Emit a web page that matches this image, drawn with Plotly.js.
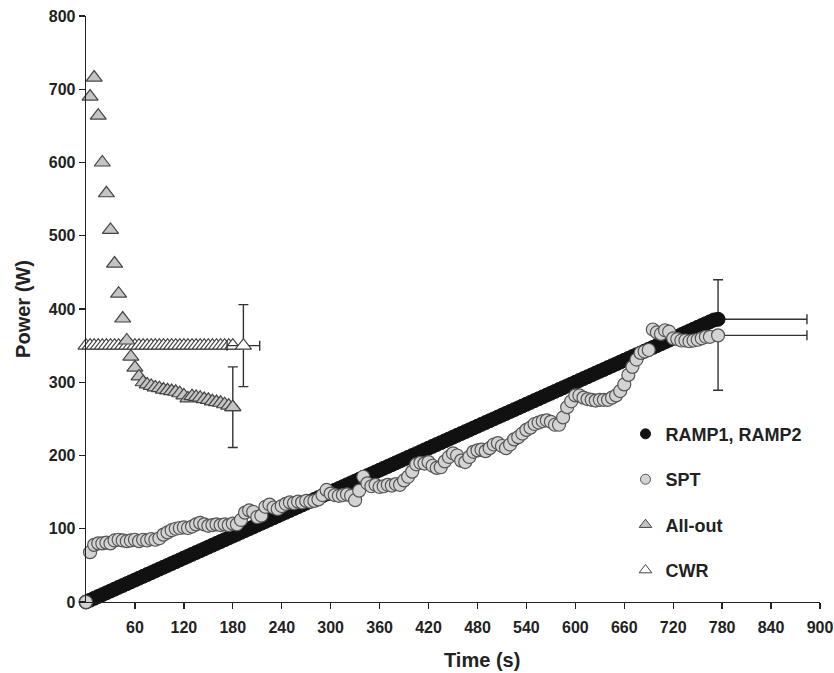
<!DOCTYPE html>
<html>
<head>
<meta charset="utf-8">
<script src="https://cdn.plot.ly/plotly-3.0.1.min.js"></script>
<style>html,body{margin:0;padding:0;background:#fff;}#chart{width:834px;height:673px;}</style>
</head>
<body>
<div id="chart"></div>
<script>
// ---- Data ----
var rampTime = [0,5,10,15,20,25,30,35,40,45,50,55,60,65,70,75,80,85,90,95,100,105,110,115,120,125,130,135,140,145,150,155,160,165,170,175,180,185,190,195,200,205,210,215,220,225,230,235,240,245,250,255,260,265,270,275,280,285,290,295,300,305,310,315,320,325,330,335,340,345,350,355,360,365,370,375,380,385,390,395,400,405,410,415,420,425,430,435,440,445,450,455,460,465,470,475,480,485,490,495,500,505,510,515,520,525,530,535,540,545,550,555,560,565,570,575,580,585,590,595,600,605,610,615,620,625,630,635,640,645,650,655,660,665,670,675,680,685,690,695,700,705,710,715,720,725,730,735,740,745,750,755,760,765,770];
var rampPower = [0,2.5,5,7.5,10,12.5,15,17.5,20,22.5,25,27.5,30,32.5,35,37.5,40,42.5,45,47.5,50,52.5,55,57.5,60,62.5,65,67.5,70,72.5,75,77.5,80,82.5,85,87.5,90,92.5,95,97.5,100,102.5,105,107.5,110,112.5,115,117.5,120,122.5,125,127.5,130,132.5,135,137.5,140,142.5,145,147.5,150,152.5,155,157.5,160,162.5,165,167.5,170,172.5,175,177.5,180,182.5,185,187.5,190,192.5,195,197.5,200,202.5,205,207.5,210,212.5,215,217.5,220,222.5,225,227.5,230,232.5,235,237.5,240,242.5,245,247.5,250,252.5,255,257.5,260,262.5,265,267.5,270,272.5,275,277.5,280,282.5,285,287.5,290,292.5,295,297.5,300,302.5,305,307.5,310,312.5,315,317.5,320,322.5,325,327.5,330,332.5,335,337.5,340,342.5,345,347.5,350,352.5,355,357.5,360,362.5,365,367.5,370,372.5,375,377.5,380,382.5,385];
var rampEnd = {t: 775, p: 386, tErr: 109, pErr: 54};

var sptTime = [0,5,10,15,20,25,30,35,40,45,50,55,60,65,70,75,80,85,90,95,100,105,110,115,120,125,130,135,140,145,150,155,160,165,170,175,180,185,190,195,200,205,210,215,220,225,230,235,240,245,250,255,260,265,270,275,280,285,290,295,300,305,310,315,320,325,330,335,340,345,350,355,360,365,370,375,380,385,390,395,400,405,410,415,420,425,430,435,440,445,450,455,460,465,470,475,480,485,490,495,500,505,510,515,520,525,530,535,540,545,550,555,560,565,570,575,580,585,590,595,600,605,610,615,620,625,630,635,640,645,650,655,660,665,670,675,680,685,690,695,700,705,710,715,720,725,730,735,740,745,750,755,760,765];
var sptPower = [0,68,78,80,80,81,80,84,85,84,83,84,85,83,85,84,86,85,87,92,95,98,100,101,102,101,103,106,108,106,104,105,106,105,106,105,107,106,112,122,125,123,116,118,130,133,129,127,131,134,136,135,137,136,138,137,138,140,146,153,148,146,145,146,147,145,139,152,171,162,158,160,157,158,160,159,161,160,166,171,178,188,190,189,191,186,183,184,192,198,203,200,193,191,198,205,207,208,206,210,215,217,213,210,215,222,225,230,235,238,243,245,247,248,246,242,242,252,266,274,282,282,279,277,276,275,276,276,276,279,282,288,297,310,321,331,340,342,344,372,368,366,371,369,360,359,357,357,356,357,358,360,362,362];
var sptEnd = {t: 775, p: 364, tErr: 109, pErr: 75};

var allOutTime = [5,10,15,20,25,30,35,40,45,50,55,60,65,70,75,80,85,90,95,100,105,110,115,120,125,130,135,140,145,150,155,160,165,170,175,180];
var allOutPower = [690,716,664,600,558,508,462,421,387,357,335,320,308,300,297,295,293,292,290,289,288,287,285,282,278,281,280,279,277,276,274,273,272,270,268,266];
var allOutErr = 55;

var cwrTime = [0,5,10,15,20,25,30,35,40,45,50,55,60,65,70,75,80,85,90,95,100,105,110,115,120,125,130,135,140,145,150,155,160,165,170,175,180];
var cwrPower = [350,350,350,350,350,350,350,350,350,350,350,350,350,350,350,350,350,350,350,350,350,350,350,350,350,350,350,350,350,350,350,350,350,350,350,350,350];
var cwrEnd = {t: 193, p: 350, tErr: 20, pErr: 56};

var xTicks = [60,120,180,240,300,360,420,480,540,600,660,720,780,840,900];
var yTicks = [0,100,200,300,400,500,600,700,800];
var seriesNames = ['RAMP1, RAMP2', 'SPT', 'All-out', 'CWR'];

// ---- Styles ----
var FONT = '"Liberation Sans Narrow", "Arial Narrow", "Liberation Sans", Arial, sans-serif';
var errCol = '#333';
var rampMk = {symbol: 'circle', size: 14, color: '#111', line: {color: '#111', width: 1}};
var sptMk = {symbol: 'circle', size: 13, color: '#d3d3d3', line: {color: '#555', width: 1.2}};
var allMk = {symbol: 'triangle-up', size: 14, color: '#c4c4c4', line: {color: '#444', width: 1.2}};
var cwrMk = {symbol: 'triangle-up', size: 14, color: '#ffffff', line: {color: '#444', width: 1.2}};

function eb(plus, minus) {
  return {type: 'data', symmetric: false, array: [plus], arrayminus: [minus], color: errCol, thickness: 1.4, width: 5};
}
function small(mk, s) {
  return {symbol: mk.symbol, size: s, color: mk.color, line: {color: mk.line.color, width: 1}};
}

var traces = [
  {x: cwrTime, y: cwrPower, mode: 'markers', type: 'scatter', name: seriesNames[3], marker: cwrMk, showlegend: false, cliponaxis: false},
  {x: [cwrEnd.t], y: [cwrEnd.p], mode: 'markers', type: 'scatter', showlegend: false, marker: cwrMk,
   error_y: eb(cwrEnd.pErr, cwrEnd.pErr), error_x: eb(cwrEnd.tErr, cwrEnd.tErr), cliponaxis: false},
  {x: allOutTime, y: allOutPower, mode: 'markers', type: 'scatter', name: seriesNames[2], marker: allMk, showlegend: false, cliponaxis: false},
  {x: [allOutTime[allOutTime.length-1]], y: [allOutPower[allOutPower.length-1]], mode: 'markers', type: 'scatter', showlegend: false, marker: allMk,
   error_y: eb(allOutErr, allOutErr), cliponaxis: false},
  {x: rampTime, y: rampPower, mode: 'markers', type: 'scatter', name: seriesNames[0], marker: rampMk, showlegend: false, cliponaxis: false},
  {x: sptTime, y: sptPower, mode: 'markers', type: 'scatter', name: seriesNames[1], marker: sptMk, showlegend: false, cliponaxis: false},
  {x: [rampEnd.t], y: [rampEnd.p], mode: 'markers', type: 'scatter', showlegend: false, marker: rampMk,
   error_y: eb(rampEnd.pErr, 0), error_x: eb(rampEnd.tErr, 0), cliponaxis: false},
  {x: [sptEnd.t], y: [sptEnd.p], mode: 'markers', type: 'scatter', showlegend: false, marker: sptMk,
   error_y: eb(0, sptEnd.pErr), error_x: eb(sptEnd.tErr, 0), cliponaxis: false},
  // legend entries (smaller symbols, as in the original key)
  {x: [null], y: [null], mode: 'markers', type: 'scatter', name: seriesNames[0], marker: small(rampMk, 10), legendgroup: 'a'},
  {x: [null], y: [null], mode: 'markers', type: 'scatter', name: seriesNames[1], marker: small(sptMk, 10), legendgroup: 'b'},
  {x: [null], y: [null], mode: 'markers', type: 'scatter', name: seriesNames[2], marker: small(allMk, 11), legendgroup: 'c'},
  {x: [null], y: [null], mode: 'markers', type: 'scatter', name: seriesNames[3], marker: small(cwrMk, 11), legendgroup: 'd'}
];

var layout = {
  width: 834, height: 673,
  margin: {l: 86, r: 14, t: 16, b: 71},
  paper_bgcolor: '#fff', plot_bgcolor: '#fff',
  font: {family: FONT, color: '#222', size: 14, stretch: 'condensed'},
  showlegend: true,
  legend: {x: 0.735, y: 0.318, xanchor: 'left', yanchor: 'top', traceorder: 'grouped', tracegroupgap: 19,
           font: {family: FONT, size: 18, color: '#222', weight: 'bold', stretch: 'condensed'}, bgcolor: 'rgba(0,0,0,0)', itemwidth: 30},
  xaxis: {
    range: [0, 900], tickvals: xTicks, ticktext: xTicks.map(String),
    showline: true, linecolor: '#222', linewidth: 1.3, ticks: 'outside', ticklen: 6, tickwidth: 1.3, tickcolor: '#222',
    ticklabelstandoff: 4,
    showgrid: false, zeroline: false,
    tickfont: {family: FONT, size: 16, color: '#222', weight: 'bold', stretch: 'condensed'},
    title: {text: ''}
  },
  yaxis: {
    range: [0, 800], tickvals: yTicks, ticktext: yTicks.map(String),
    showline: true, linecolor: '#222', linewidth: 1.3, ticks: 'outside', ticklen: 6, tickwidth: 1.3, tickcolor: '#222',
    showgrid: false, zeroline: false,
    tickfont: {family: FONT, size: 16, color: '#222', weight: 'bold', stretch: 'condensed'},
    title: {text: 'Power (W)', font: {family: FONT, size: 20, color: '#222', weight: 'bold'}, standoff: 12}
  },
  annotations: [{
    text: 'Time (s)', xref: 'paper', yref: 'paper', x: 0.539, y: 0, yshift: -45, xanchor: 'center', yanchor: 'top',
    showarrow: false, font: {family: FONT, size: 20, color: '#222', weight: 'bold', stretch: 'condensed'}
  }]
};

Plotly.newPlot('chart', traces, layout, {displayModeBar: false, staticPlot: true});
</script>
</body>
</html>
